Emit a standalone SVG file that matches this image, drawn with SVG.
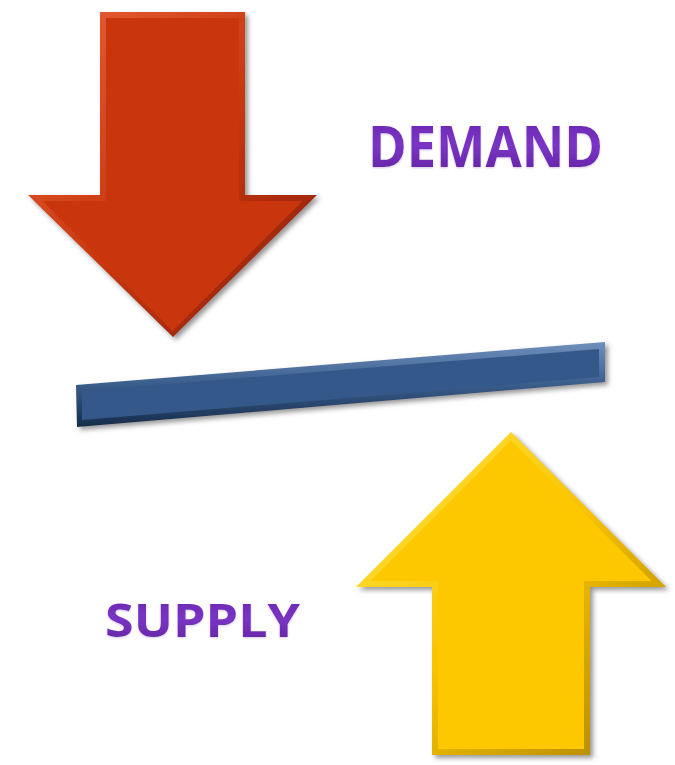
<svg xmlns="http://www.w3.org/2000/svg" width="675" height="765" viewBox="0 0 675 765">
  <defs>
    <style>
      .label { font-family: "Open Sans", "Lato", "Liberation Sans", sans-serif; font-weight: 700; }
    </style>
    <filter id="shadow" x="-10%" y="-10%" width="125%" height="125%">
      <feDropShadow dx="3" dy="3" stdDeviation="2.5" flood-color="#6a6a6a" flood-opacity="0.7"/>
    </filter>
    <filter id="soft" x="-5%" y="-5%" width="110%" height="110%">
      <feGaussianBlur stdDeviation="0.7"/>
    </filter>
    <filter id="glow" x="-5%" y="-10%" width="110%" height="130%">
      <feDropShadow dx="0" dy="1" stdDeviation="1" flood-color="#b9a4d6" flood-opacity="0.6"/>
    </filter>
    <linearGradient id="redEdge" x1="0" y1="0" x2="1" y2="1">
      <stop offset="0" stop-color="#e8623a"/>
      <stop offset="0.5" stop-color="#c9380e"/>
      <stop offset="1" stop-color="#861c04"/>
    </linearGradient>
    <linearGradient id="yelEdge" x1="0" y1="0" x2="1" y2="1">
      <stop offset="0" stop-color="#ffea4a"/>
      <stop offset="0.5" stop-color="#f8c200"/>
      <stop offset="1" stop-color="#a88000"/>
    </linearGradient>
    <linearGradient id="barEdge" x1="0" y1="0" x2="0" y2="1">
      <stop offset="0" stop-color="#6f90bd"/>
      <stop offset="0.5" stop-color="#3a5d8c"/>
      <stop offset="1" stop-color="#162c4a"/>
    </linearGradient>
    <linearGradient id="purple" x1="0" y1="0" x2="0" y2="1">
      <stop offset="0" stop-color="#6622a8"/>
      <stop offset="0.5" stop-color="#7a34c4"/>
      <stop offset="1" stop-color="#5c1e98"/>
    </linearGradient>
  </defs>

  <rect x="0" y="0" width="675" height="765" fill="#ffffff"/>

  <g id="demand-arrow">
    <polygon filter="url(#shadow)" fill="url(#redEdge)" points="100,12 245,12 245,195 317,195 173,337 28,195 100,195"/>
    <polygon fill="#c9360c" filter="url(#soft)" points="106,18 239,18 239,201 302.5,201 172.5,331 42.5,201 106,201"/>
  </g>

  <g id="demand-label">
    <text class="label" x="368" y="167" font-size="57" fill="url(#purple)" filter="url(#glow)" textLength="235" lengthAdjust="spacingAndGlyphs">DEMAND</text>
  </g>

  <g id="balance-bar">
    <polygon filter="url(#shadow)" fill="url(#barEdge)" points="76,385 605,342 605,382 77,427"/>
    <polygon fill="#36598a" filter="url(#soft)" points="82,391 599,349 599,377 82,420"/>
  </g>

  <g id="supply-arrow">
    <polygon filter="url(#shadow)" fill="url(#yelEdge)" points="511,432 666,587 590,587 590,755 432,755 432,587 356,587"/>
    <polygon fill="#fec800" filter="url(#soft)" points="511,440.5 651.5,581 584,581 584,749 438,749 438,581 370.5,581"/>
  </g>

  <g id="supply-label">
    <text class="label" x="105" y="637" font-size="47" fill="url(#purple)" filter="url(#glow)" textLength="195" lengthAdjust="spacingAndGlyphs">SUPPLY</text>
  </g>
</svg>
